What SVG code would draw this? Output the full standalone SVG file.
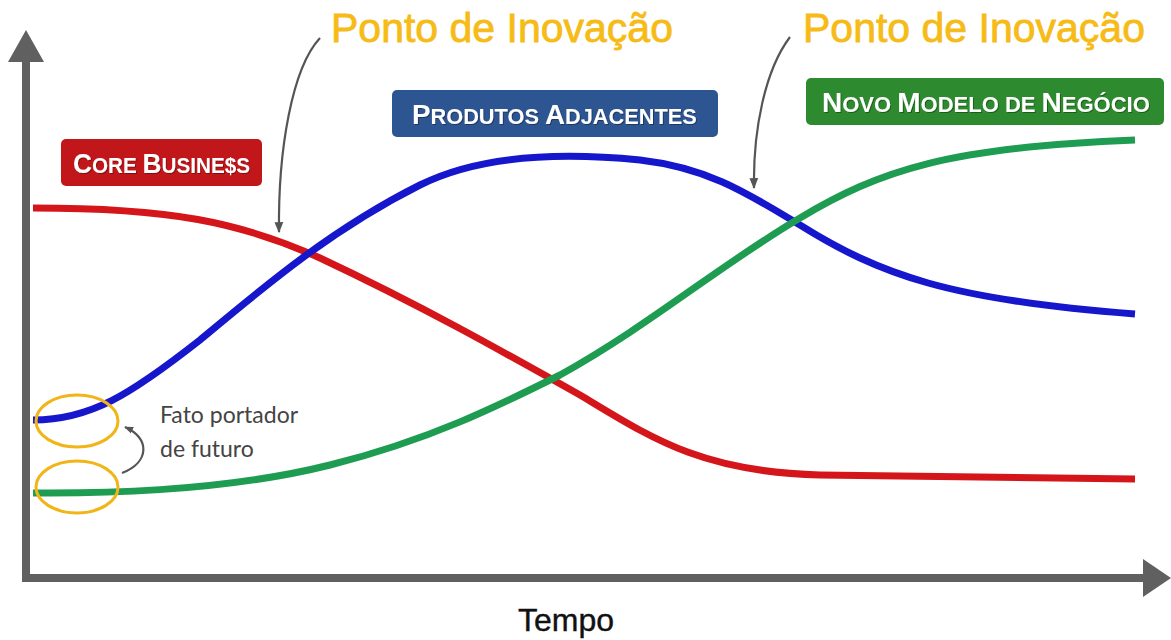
<svg xmlns="http://www.w3.org/2000/svg" width="1171" height="640" viewBox="0 0 1171 640">
<defs>
<style>
.axis{stroke:#606060;stroke-width:8;fill:none}
.curve{fill:none;stroke-width:7;stroke-linecap:butt}
.ptr{fill:none;stroke:#555;stroke-width:2.2}
.ring{fill:none;stroke:#f2b518;stroke-width:3}
.tag{font-family:"Liberation Sans",Arial,sans-serif;font-weight:bold;fill:#fff}
.big{font-size:28px}
.sm{font-size:22px}
.title{font-family:"Liberation Sans",Arial,sans-serif;font-size:41px;fill:#f6bb16;stroke:#f6bb16;stroke-width:0.8}
.note{font-family:Lato,"Liberation Sans",sans-serif;font-size:23px;fill:#444}
</style>
<marker id="ah2" viewBox="0 0 10 10" refX="9" refY="5" markerWidth="11" markerHeight="11" orient="auto" markerUnits="userSpaceOnUse">
<path d="M0,1 L10,5 L0,9 Z" fill="#555"/>
</marker>
<marker id="ah3" viewBox="0 0 10 10" refX="9" refY="5" markerWidth="9" markerHeight="9" orient="auto" markerUnits="userSpaceOnUse">
<path d="M0,1 L10,5 L0,9 Z" fill="#555"/>
</marker>
<filter id="ts" x="-5%" y="-20%" width="110%" height="140%"><feDropShadow dx="1" dy="1" stdDeviation="0.6" flood-color="#000" flood-opacity="0.35"/></filter>
</defs>
<rect width="1171" height="640" fill="#fff"/>
<g id="axes">
<line class="axis" x1="26" y1="578" x2="26" y2="58"/>
<path d="M26,30 L44,62 L8,62 Z" fill="#606060"/>
<line class="axis" x1="22" y1="578" x2="1146" y2="578"/>
<path d="M1171,578 L1143,559 L1143,597 Z" fill="#606060"/>
<text x="566" y="631" text-anchor="middle" font-family="'Liberation Sans',Arial,sans-serif" font-size="32" fill="#111" stroke="#111" stroke-width="0.4">Tempo</text>
</g>
<g id="connectors">
<path class="curve" stroke="#d4161a" d="M33,208 C170,208 240,222 320,258 C420,305 500,350 580,395 C650,437 700,472 820,475 L1135,479"/>
<path class="curve" stroke="#1616cc" d="M33,420 C90,420 130,395 200,340 C260,290 330,230 420,185 C480,155 560,152 640,160 C710,168 750,195 800,225 C880,275 950,300 1135,314"/>
<path class="curve" stroke="#1e9d52" d="M33,493 C150,494 250,485 330,465 C430,440 500,405 560,375 C650,325 720,265 800,218 C880,170 950,147 1135,140"/>
<path class="ptr" marker-end="url(#ah2)" d="M320,38 C292,68 278,150 279,232"/>
<path class="ptr" marker-end="url(#ah2)" d="M790,37 C765,70 753,130 754,188"/>
<path class="ptr" marker-end="url(#ah3)" d="M122,473 C150,462 150,438 125,427"/>
</g>
<g id="label-core">
<rect x="61" y="139" width="201" height="47" rx="5" fill="#c2171a"/>
<text class="tag" transform="translate(73,173) scale(0.94,1)" filter="url(#ts)"><tspan class="big">C</tspan><tspan class="sm">ORE </tspan><tspan class="big">B</tspan><tspan class="sm">USINE$S</tspan></text>
</g>
<g id="label-produtos">
<rect x="392" y="90" width="326" height="47" rx="5" fill="#2c5591"/>
<text class="tag" transform="translate(412,124) scale(0.99,1)" filter="url(#ts)"><tspan class="big">P</tspan><tspan class="sm">RODUTOS </tspan><tspan class="big">A</tspan><tspan class="sm">DJACENTES</tspan></text>
</g>
<g id="label-novo">
<rect x="806" y="78" width="358" height="47" rx="5" fill="#2e8a2e"/>
<text class="tag" x="822" y="112" filter="url(#ts)"><tspan class="big">N</tspan><tspan class="sm">OVO </tspan><tspan class="big">M</tspan><tspan class="sm">ODELO DE </tspan><tspan class="big">N</tspan><tspan class="sm">EGÓCIO</tspan></text>
</g>
<g id="ponto-1">
<text class="title" x="331" y="42">Ponto de Inovação</text>
</g>
<g id="ponto-2">
<text class="title" x="803" y="42">Ponto de Inovação</text>
</g>
<g id="fato">
<ellipse class="ring" cx="77" cy="421" rx="41" ry="26"/>
<ellipse class="ring" cx="77" cy="487" rx="41" ry="26"/>
<text class="note" x="160" y="423">Fato portador</text>
<text class="note" x="160" y="457">de futuro</text>
</g>
</svg>
